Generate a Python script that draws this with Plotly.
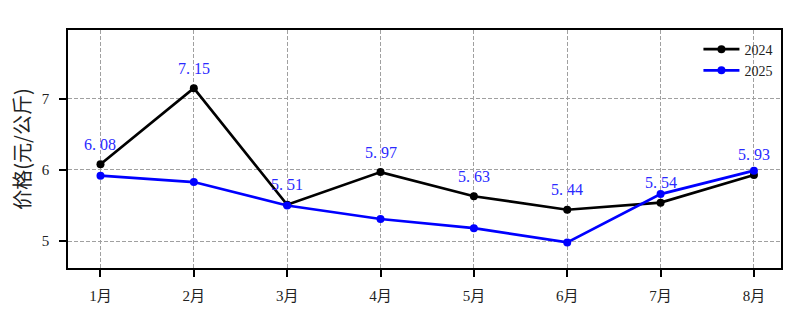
import plotly.graph_objects as go

months = ["1月", "2月", "3月", "4月", "5月", "6月", "7月", "8月"]
price_2024 = [6.08, 7.15, 5.51, 5.97, 5.63, 5.44, 5.54, 5.93]
price_2025 = [5.92, 5.83, 5.50, 5.31, 5.18, 4.98, 5.66, 5.99]
y_ticks = [5, 6, 7]

FONT = "Liberation Serif, Noto Sans CJK SC, serif"
xi = list(range(len(months)))

fig = go.Figure()
fig.add_trace(go.Scatter(x=xi, y=price_2024, mode="lines+markers", name="2024",
                         line=dict(color="black", width=2.7),
                         marker=dict(color="black", size=8)))
fig.add_trace(go.Scatter(x=xi, y=price_2025, mode="lines+markers", name="2025",
                         line=dict(color="blue", width=2.7),
                         marker=dict(color="blue", size=8)))

for i, v in zip(xi, price_2024):
    fig.add_annotation(x=i, y=v, text=f"{v:.2f}".replace(".", ". "), showarrow=False, yshift=20,
                       font=dict(family=FONT, size=16, color="#2a2aff"))

axis_common = dict(showline=True, linecolor="black", linewidth=1.5, mirror=True,
                   ticks="outside", ticklen=7, tickwidth=1.5, tickcolor="black",
                   showgrid=True, gridcolor="#a0a0a0", griddash="4px,2px", gridwidth=1,
                   zeroline=False, automargin=False,
                   tickfont=dict(family=FONT, size=15, color="#222"))

fig.update_xaxes(range=[-0.348, 7.29], tickmode="array", tickvals=xi, ticktext=months,
                 ticklabelstandoff=6, **axis_common)
fig.update_yaxes(range=[4.62, 7.97], tickmode="array", tickvals=y_ticks,
                 ticklabelstandoff=7,
                 title=dict(text="价格(元/公斤)", font=dict(family="Noto Sans CJK SC", size=20, color="#222"),
                            standoff=6),
                 **axis_common)

fig.update_layout(
    width=801, height=313,
    margin=dict(l=68, r=20, t=30, b=45),
    plot_bgcolor="white", paper_bgcolor="white",
    showlegend=True,
    legend=dict(x=0.995, y=0.985, xanchor="right", yanchor="top",
                bgcolor="rgba(0,0,0,0)", font=dict(family=FONT, size=14, color="#222"),
                itemwidth=36, tracegroupgap=0),
)

fig.write_html("out.html")
